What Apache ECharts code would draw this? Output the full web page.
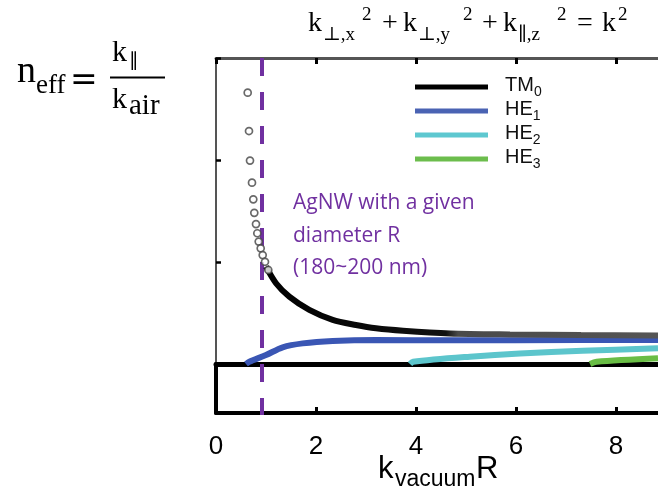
<!DOCTYPE html>
<html>
<head>
<meta charset="utf-8">
<script src="https://cdn.jsdelivr.net/npm/echarts@6/dist/echarts.min.js"></script>
<style>html,body{margin:0;padding:0;background:#fff}#main{width:658px;height:491px}</style>
</head>
<body>
<div id="main"></div>
<script>
// x: k_vacuum*R, y: n_eff
var xTicks = [0, 2, 4, 6, 8];
var agnwKR = 0.92; // AgNW, R = 180~200 nm
var modeNames = ['TM0', 'HE1', 'HE2', 'HE3'];

// TM0 near cut-off: separate hollow circles
var tm0Dots = [[0.634, 2.330], [0.66, 2.142], [0.68, 1.997], [0.72, 1.889], [0.746, 1.807],
	[0.766, 1.741], [0.80, 1.686], [0.826, 1.641], [0.854, 1.600], [0.894, 1.567],
	[0.934, 1.534], [0.98, 1.501], [1.046, 1.461]];
// TM0 dense part
var tm0Curve = [[1.0, 1.477], [1.2, 1.396], [1.466, 1.330], [1.866, 1.265], [2.334, 1.216],
	[2.8, 1.191], [3.2, 1.175], [3.74, 1.163], [4.68, 1.150], [5.88, 1.145], [7.3, 1.142], [8.84, 1.140]];
var he1 = [[0.6, 1.0], [0.666, 1.011], [1.0, 1.044], [1.334, 1.082], [1.734, 1.101], [2.334, 1.113],
	[3.2, 1.118], [4.68, 1.116], [7.28, 1.118], [8.84, 1.118]];
var he2 = [[3.88, 1.0], [3.94, 1.011], [5.08, 1.036], [6.08, 1.052], [7.33, 1.065], [8.84, 1.077]];
var he3 = [[7.48, 1.0], [7.61, 1.011], [8.84, 1.028]];

var dom = document.getElementById('main');
var myChart = echarts.init(dom);

// text placed by its baseline
function txt(str, x, base, size, family, color, k) {
	k = k || 0.34;
	return {
		type: 'text', x: x, y: base - k * size, z: 10,
		style: {
			text: str, fontSize: size, fontFamily: family, fill: color || '#000',
			align: 'left', verticalAlign: 'middle', textAlign: 'left', textVerticalAlign: 'middle'
		}
	};
}
var serif = 'Liberation Serif, DejaVu Serif';
var sans = 'Liberation Sans';
var purple = '#7030a0';

var graphics = [
	// n_eff = k_par / k_air
	txt('n', 17, 85, 38, serif),
	txt('eff', 36, 95, 27, serif),
	txt('=', 70, 93, 33, 'DejaVu Serif'),
	txt('k', 112, 63.3, 30, serif),
	txt('\u2225', 129, 68, 19, 'DejaVu Sans'),
	{type: 'line', shape: {x1: 110, y1: 77.5, x2: 165, y2: 77.5}, style: {stroke: '#000', lineWidth: 2}},
	txt('k', 112, 110, 30, serif),
	txt('air', 129, 116.7, 29, serif),
	// top equation
	txt('k', 308, 33.3, 28, serif),
	txt('\u22A5,x', 323, 41, 19, serif),
	txt('2', 362, 21.7, 19, serif),
	txt('+', 382, 33.3, 28, serif),
	txt('k', 403, 33.3, 28, serif),
	txt('\u22A5,y', 418, 41, 19, serif),
	txt('2', 463, 21.7, 19, serif),
	txt('+', 482, 33.3, 28, serif),
	txt('k', 503, 33.3, 28, serif),
	txt('\u2225,z', 518, 41, 19, serif),
	txt('2', 557, 21.7, 19, serif),
	txt('=', 577, 33.3, 28, serif),
	txt('k', 602, 33.3, 28, serif),
	txt('2', 618, 21.7, 19, serif),
	// annotation
	txt('AgNW with a given', 293, 210.7, 21, 'Open Sans', purple, 0.388),
	txt('diameter R', 293, 244, 21, 'Open Sans', purple, 0.388),
	txt('(180~200 nm)', 293, 276.5, 21, 'Open Sans', purple, 0.388),
	// x axis name
	txt('k', 378, 480, 31, sans),
	txt('vacuum', 395, 487, 23, sans),
	txt('R', 476, 480, 31, sans)
];

function lineSeries(name, data, color, z) {
	return {
		name: name, type: 'line', xAxisIndex: 0, yAxisIndex: 0, data: data,
		smooth: 0.3, showSymbol: false, symbol: 'none', z: z,
		lineStyle: {color: color, width: 6, cap: 'butt'},
		itemStyle: {color: color}
	};
}

var option = {
	animation: false,
	backgroundColor: '#fff',
	grid: [
		{left: 216, right: -58, top: 58, height: 306, outerBoundsMode: 'none'},
		{left: 216, right: -58, top: 364, height: 49, outerBoundsMode: 'none'}
	],
	legend: {
		left: 410, top: 70, orient: 'vertical',
		icon: 'rect', itemWidth: 73, itemHeight: 5, itemGap: 0,
		data: [
			{name: 'TM0', itemStyle: {color: '#000'}},
			{name: 'HE1', itemStyle: {color: '#4a63b3'}},
			{name: 'HE2', itemStyle: {color: '#5ec8d0'}},
			{name: 'HE3', itemStyle: {color: '#6cbd4d'}}
		],
		formatter: function (name) {
			return '{a|' + name.slice(0, -1) + '}{s|' + name.slice(-1) + '}';
		},
		textStyle: {
			rich: {
				a: {fontSize: 20, fontFamily: sans, color: '#111', lineHeight: 24, padding: [0, 0, 0, 12], verticalAlign: 'top'},
				s: {fontSize: 14, fontFamily: sans, color: '#111', lineHeight: 14, verticalAlign: 'bottom'}
			}
		}
	},
	xAxis: [
		{
			gridIndex: 0, type: 'value', position: 'top', min: 0, max: 10, interval: 2,
			axisLine: {show: true, onZero: false, lineStyle: {color: '#555', width: 3}},
			axisTick: {show: true, inside: true, length: 6, lineStyle: {color: '#000', width: 3}},
			axisLabel: {show: false}, splitLine: {show: false}
		},
		{
			gridIndex: 0, type: 'value', position: 'bottom', min: 0, max: 10, interval: 2,
			axisLine: {show: true, onZero: false, lineStyle: {color: '#000', width: 5}},
			axisTick: {show: false}, axisLabel: {show: false}, splitLine: {show: false}
		},
		{
			gridIndex: 1, type: 'value', position: 'bottom', min: 0, max: 10, interval: 2,
			axisLine: {show: true, onZero: false, lineStyle: {color: '#000', width: 4}},
			axisTick: {show: true, inside: true, length: 6, lineStyle: {color: '#000', width: 3}},
			axisLabel: {
				fontSize: 26, fontFamily: sans, color: '#000', margin: 21,
				formatter: function (v) { return xTicks.indexOf(v) >= 0 ? String(v) : ''; }
			},
			splitLine: {show: false}
		}
	],
	yAxis: [
		{
			gridIndex: 0, type: 'value', min: 1, max: 2.5, interval: 0.5,
			axisLine: {show: true, onZero: false, lineStyle: {color: '#555', width: 2}},
			axisTick: {show: true, inside: true, length: 5, lineStyle: {color: '#000', width: 2.5}},
			axisLabel: {show: false}, splitLine: {show: false}
		},
		{
			gridIndex: 1, type: 'value', min: 0, max: 1,
			axisLine: {show: true, onZero: false, lineStyle: {color: '#000', width: 4}},
			axisTick: {show: false}, axisLabel: {show: false}, splitLine: {show: false}
		}
	],
	series: [
		lineSeries('HE3', he3, '#69bd45', 3),
		lineSeries('HE2', he2, '#5cc5cc', 3),
		lineSeries('HE1', he1, '#3a56b4', 4),
		{
			name: 'AgNW', type: 'line', xAxisIndex: 0, yAxisIndex: 0, clip: false,
			data: [[agnwKR, 2.5], [agnwKR, 0.75]], symbol: 'none', z: 5,
			lineStyle: {color: purple, width: 4, type: [18, 16]}
		},
		{
			name: 'TM0', type: 'line', xAxisIndex: 0, yAxisIndex: 0, data: tm0Curve,
			smooth: 0.3, symbol: 'none', z: 6,
			lineStyle: {
				width: 6,
				color: {
					type: 'linear', x: 0, y: 0, x2: 1, y2: 0,
					colorStops: [{offset: 0, color: '#000'}, {offset: 0.46, color: '#111'},
						{offset: 0.49, color: '#4a4a4a'}, {offset: 1, color: '#555'}]
				}
			},
			itemStyle: {color: '#000'}
		},
		{
			name: 'TM0', type: 'scatter', xAxisIndex: 0, yAxisIndex: 0, data: tm0Dots,
			symbol: 'circle', symbolSize: 7, z: 7,
			itemStyle: {color: '#fff', borderColor: '#444', borderWidth: 1.7}
		}
	],
	graphic: graphics
};
myChart.setOption(option, true);
</script>
</body>
</html>
